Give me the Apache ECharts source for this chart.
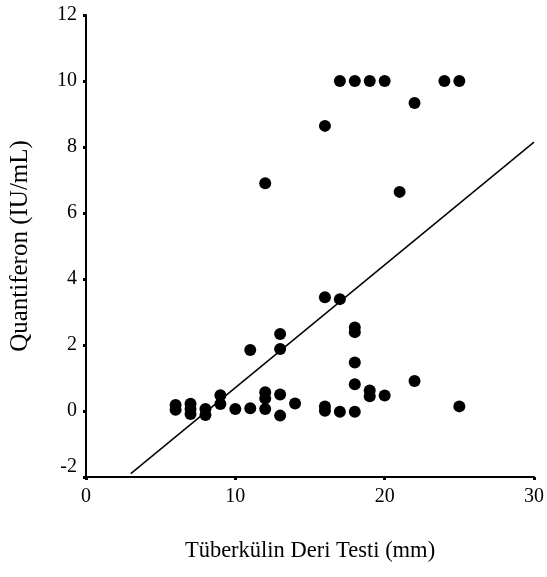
<!DOCTYPE html>
<html>
<head>
<meta charset="utf-8">
<script src="https://cdn.jsdelivr.net/npm/echarts@6/dist/echarts.min.js"></script>
<style>
  html, body { margin: 0; padding: 0; background: #fff; }
  #main { width: 547px; height: 577px; }
</style>
</head>
<body>
<div id="main"></div>
<script>
// skin test (mm) vs quantiferon (IU/mL)
var testX = [6, 6, 7, 7, 7, 8, 8, 9, 9, 10, 11, 11, 12, 12, 12, 12, 13, 13, 13, 13, 14,
  16, 16, 16, 16, 17, 17, 17, 18, 18, 18, 18, 18, 18, 19, 19, 19, 20, 20, 21, 22, 22, 24, 25, 25];
var testY = [0.18, 0.04, 0.22, 0.06, -0.09, 0.06, -0.12, 0.48, 0.21, 0.06, 0.08, 1.85, 0.57, 0.38, 0.06, 6.9,
  0.5, -0.14, 1.88, 2.33, 0.23, 0.14, 0.01, 3.45, 8.64, -0.02, 3.39, 10, -0.02, 0.81, 1.47, 2.39, 2.53, 10,
  0.62, 0.45, 10, 0.47, 10, 6.64, 0.91, 9.33, 10, 0.14, 10];
var fitX = [3, 30];
var fitY = [-1.9, 8.15];

var xTicks = [0, 10, 20, 30];
var yTicks = [-2, 0, 2, 4, 6, 8, 10, 12];

var points = testX.map(function (x, i) { return [x, testY[i]]; });
var fitLine = fitX.map(function (x, i) { return [x, fitY[i]]; });

var chart = echarts.init(document.getElementById("main"));
var font = "Liberation Serif";

var option = {
  backgroundColor: "#fff",
  animation: false,
  grid: { left: 86, right: 12, top: 15, bottom: 100 },
  xAxis: {
    type: "value",
    min: xTicks[0],
    max: xTicks[xTicks.length - 1],
    interval: 10,
    name: "Tüberkülin Deri Testi (mm)",
    nameLocation: "middle",
    nameGap: 63,
    nameTextStyle: { fontFamily: font, fontSize: 22.5, color: "#000" },
    splitLine: { show: false },
    axisLine: { onZero: false, lineStyle: { color: "#000", width: 2 } },
    axisTick: { length: 3, lineStyle: { color: "#000", width: 3 } },
    axisLabel: { fontFamily: font, fontSize: 20, color: "#000", margin: 10 }
  },
  yAxis: {
    type: "value",
    min: yTicks[0],
    max: yTicks[yTicks.length - 1],
    interval: 2,
    name: "Quantiferon (IU/mL)",
    nameLocation: "middle",
    nameGap: 53,
    nameTextStyle: { fontFamily: font, fontSize: 25, color: "#000" },
    splitLine: { show: false },
    axisLine: { onZero: false, lineStyle: { color: "#000", width: 2 } },
    axisTick: { length: 3, lineStyle: { color: "#000", width: 3 } },
    axisLabel: {
      fontFamily: font, fontSize: 20, color: "#000", margin: 9,
      verticalAlignMinLabel: "bottom"
    }
  },
  series: [
    {
      type: "scatter",
      symbol: "circle",
      symbolSize: 12,
      itemStyle: { color: "#000", opacity: 1 },
      data: points
    },
    {
      type: "line",
      symbol: "none",
      lineStyle: { color: "#000", width: 1.5 },
      data: fitLine
    }
  ]
};
chart.setOption(option);
</script>
</body>
</html>
